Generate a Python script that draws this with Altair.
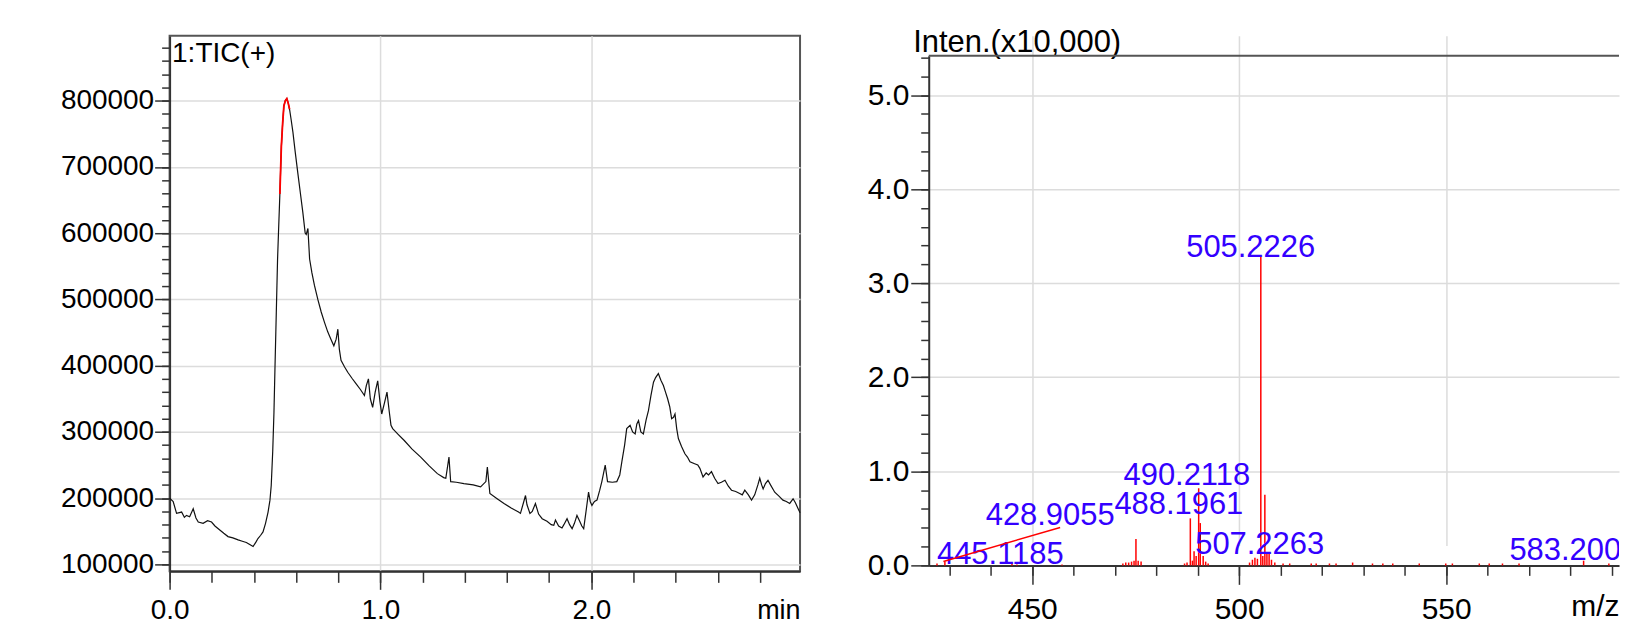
import altair as alt
import pandas as pd

FONT = "Liberation Sans"
DARK = "#333333"
FRAME = "#555555"
GRID = "#dcdcdc"
BLUE = "#3300ff"

# ---------------- TIC chromatogram ----------------
tic_t = [0.000, 0.017, 0.033, 0.057, 0.070, 0.080, 0.095, 0.112, 0.125, 0.136, 0.159, 0.180,
         0.199, 0.215, 0.238, 0.257, 0.277, 0.300, 0.325, 0.345, 0.364, 0.380, 0.396, 0.410,
         0.419, 0.432, 0.443, 0.455, 0.467, 0.476, 0.482, 0.489, 0.495, 0.500, 0.506, 0.512,
         0.517, 0.523, 0.530, 0.536, 0.542, 0.549, 0.556, 0.562, 0.569, 0.577, 0.585, 0.596,
         0.608, 0.620, 0.632, 0.643, 0.648, 0.656, 0.664, 0.675, 0.687, 0.703, 0.719, 0.735,
         0.750, 0.765, 0.779, 0.790, 0.798, 0.805, 0.813, 0.830, 0.845, 0.865, 0.884, 0.905,
         0.924, 0.933, 0.943, 0.952, 0.963, 0.975, 0.987, 0.998, 1.006, 1.020, 1.031, 1.042,
         1.050, 1.058, 1.085, 1.113, 1.150, 1.191, 1.230, 1.270, 1.300, 1.310, 1.325, 1.333,
         1.360, 1.396, 1.440, 1.475, 1.500, 1.507, 1.519, 1.550, 1.586, 1.620, 1.655, 1.664,
         1.688, 1.695, 1.709, 1.720, 1.735, 1.750, 1.767, 1.790, 1.810, 1.822, 1.830, 1.845,
         1.861, 1.870, 1.885, 1.897, 1.909, 1.920, 1.932, 1.945, 1.955, 1.964, 1.975, 1.987,
         1.995, 2.003, 2.015, 2.027, 2.040, 2.050, 2.066, 2.077, 2.100, 2.121, 2.135, 2.145,
         2.158, 2.168, 2.184, 2.196, 2.208, 2.216, 2.224, 2.235, 2.247, 2.260, 2.271, 2.283,
         2.295, 2.305, 2.318, 2.330, 2.342, 2.352, 2.362, 2.372, 2.381, 2.390, 2.397, 2.405,
         2.413, 2.428, 2.444, 2.456, 2.468, 2.490, 2.505, 2.515, 2.530, 2.545, 2.556, 2.570,
         2.585, 2.601, 2.617, 2.634, 2.650, 2.665, 2.685, 2.704, 2.716, 2.728, 2.745, 2.760,
         2.775, 2.790, 2.799, 2.808, 2.815, 2.826, 2.838, 2.850, 2.870, 2.890, 2.909, 2.925,
         2.941, 2.950, 2.957, 2.968, 2.981, 2.990]
tic_v = [200000, 195000, 177000, 179000, 171000, 174000, 172000, 184000, 170000, 164000, 162000, 166000,
         164000, 158000, 152000, 147000, 142000, 140000, 137000, 135000, 133000, 130000, 127000, 134000,
         139000, 144000, 149000, 162000, 179000, 197000, 219000, 270000, 330000, 400000, 480000, 560000,
         606000, 659000, 731000, 765000, 792000, 800000, 803000, 797000, 787000, 770000, 752000, 722000,
         691000, 661000, 631000, 600000, 598000, 607000, 561000, 540000, 521000, 500000, 481000, 465000,
         451000, 440000, 430000, 440000, 455000, 425000, 408000, 398000, 390000, 381000, 373000, 364000,
         355000, 370000, 380000, 350000, 337000, 360000, 377000, 345000, 327000, 345000, 360000, 330000,
         310000, 305000, 296000, 287000, 274000, 262000, 249000, 237000, 231000, 230000, 262000, 225000,
         224000, 222000, 220000, 217000, 225000, 247000, 207000, 200000, 192000, 185000, 179000, 177000,
         204000, 190000, 177000, 180000, 192000, 176000, 169000, 165000, 160000, 159000, 167000, 158000,
         155000, 160000, 169000, 160000, 154000, 162000, 174000, 165000, 158000, 154000, 180000, 209000,
         195000, 189000, 195000, 197000, 212000, 225000, 250000, 225000, 224000, 225000, 235000, 255000,
         280000, 305000, 310000, 300000, 297000, 312000, 317000, 300000, 297000, 318000, 332000, 355000,
         375000, 382000, 388000, 378000, 370000, 360000, 350000, 338000, 320000, 322000, 327000, 305000,
         290000, 278000, 267000, 262000, 255000, 252000, 250000, 245000, 232000, 238000, 235000, 240000,
         230000, 222000, 224000, 227000, 218000, 212000, 210000, 207000, 205000, 212000, 205000, 197000,
         205000, 220000, 230000, 220000, 214000, 222000, 227000, 220000, 209000, 203000, 197000, 195000,
         192000, 196000, 199000, 193000, 184000, 178000]

tic_x_major = [0.0, 1.0, 2.0]
tic_x_minor = [round(0.2 * i, 1) for i in range(15)]
tic_y_major = [100000 * i for i in range(1, 9)]
tic_y_minor = [100000 + 20000 * i for i in range(40)]

# ---------------- Mass spectrum ----------------
ms_mz = [427.0, 428.9055, 445.1185, 446.3, 457.2, 471.9, 472.6, 473.3, 474.0, 474.6, 475.06, 475.6,
         476.3, 486.8, 487.4, 488.1961, 488.7, 489.1, 489.6, 490.2118, 490.6, 491.3, 491.9, 492.5,
         502.5, 503.2, 503.8, 504.4, 505.2226, 505.7, 506.2, 506.7, 507.2263, 507.8, 508.6, 510.6,
         512.2, 517.4, 518.6, 521.8, 523.4, 527.4, 532.2, 534.7, 537.1, 543.5, 549.9, 551.5,
         558.0, 560.4, 563.6, 567.6, 583.2, 589.3]
ms_int = [0.02, 0.04, 0.02, 0.01, 0.01, 0.02, 0.03, 0.03, 0.04, 0.05, 0.28, 0.05,
          0.04, 0.02, 0.03, 0.50, 0.05, 0.15, 0.10, 0.82, 0.45, 0.10, 0.04, 0.02,
          0.03, 0.06, 0.08, 0.07, 3.28, 0.10, 0.75, 0.12, 0.14, 0.06, 0.03, 0.02,
          0.02, 0.02, 0.02, 0.02, 0.02, 0.03, 0.02, 0.02, 0.02, 0.02, 0.02, 0.02,
          0.02, 0.02, 0.02, 0.02, 0.05, 0.02]

lab_text = ["505.2226", "490.2118", "488.1961", "507.2263", "428.9055", "445.1185", "583.2000"]
lab_mz = [502.77, 487.35, 485.42, 504.94, 454.34, 442.29, 580.84]
lab_int = [3.28, 0.85, 0.55, 0.125, 0.428, 0.02, 0.053]

lead_mz = [456.75, 428.55]
lead_int = [0.403, 0.042]

ms_x_major = [450, 500, 550]
ms_x_minor = list(range(430, 591, 10))
ms_y_major = [0, 1, 2, 3, 4, 5]
ms_y_minor = [round(0.2 * i, 1) for i in range(28)]

# ---------------- helpers ----------------
def major_axis(values, fmt, orient, size, tick, pad, **kw):
    return alt.Axis(values=values, format=fmt, orient=orient, labelFont=FONT, labelFontSize=size,
                    labelColor="black", labelPadding=pad, labelFlush=False, labelOverlap=False,
                    tickSize=tick, tickColor=DARK, tickWidth=1.5, domainColor=DARK, domainWidth=2,
                    grid=True, gridColor=GRID, gridWidth=1.5,
                    titleFont=FONT, titleFontWeight="normal", titleColor="black",
                    titleBaseline="alphabetic", **kw)


def minor_axis(values, orient, tick):
    return alt.Axis(values=values, orient=orient, labels=False, tickSize=tick, tickColor=DARK,
                    tickWidth=1.5, domain=False, grid=False)


# ---------------- left panel ----------------
LW, LH = 632, 537
tic_df = pd.DataFrame({"t": tic_t, "v": tic_v})
xs_l = alt.Scale(domain=[0, 2.99], nice=False, zero=False)
ys_l = alt.Scale(domain=[89500, 898000], nice=False, zero=False)

tic_line = alt.Chart(tic_df).mark_line(color="#111111", strokeWidth=1.2).encode(
    x=alt.X("t:Q", scale=xs_l, title="min",
            axis=major_axis(tic_x_major, ".1f", "bottom", 28, 18, 7, titleX=LW, titleY=47,
                            titleAlign="right", titleFontSize=27)),
    y=alt.Y("v:Q", scale=ys_l, title="1:TIC(+)",
            axis=major_axis(tic_y_major, "d", "left", 28, 15, 1, titleX=2, titleY=26, titleAngle=0,
                            titleAlign="left", titleFontSize=28)),
)
tic_red = alt.Chart(tic_df).transform_filter(
    "datum.t >= 0.52 && datum.t <= 0.572"
).mark_line(color="#ff0000", strokeWidth=1.8).encode(
    x=alt.X("t:Q", scale=xs_l, title=None, axis=minor_axis(tic_x_minor, "bottom", 11)),
    y=alt.Y("v:Q", scale=ys_l, title=None, axis=minor_axis(tic_y_minor, "left", 8)),
)
left = alt.layer(tic_line, tic_red).resolve_axis(x="independent", y="independent").properties(
    width=LW, height=LH, view=alt.ViewBackground(stroke=FRAME, strokeWidth=2)
)

# ---------------- right panel ----------------
RW, RH = 692, 531
ms_df = pd.DataFrame({"mz": ms_mz, "inten": ms_int})
lab_df = pd.DataFrame({"mz": lab_mz, "inten": lab_int, "label": lab_text})
lead_df = pd.DataFrame({"mz": lead_mz, "inten": lead_int})
xs_r = alt.Scale(domain=[425, 591.75], nice=False, zero=False)
ys_r = alt.Scale(domain=[0, 5.42], range=[RH, 20], nice=False, zero=False)

sticks = alt.Chart(ms_df).mark_rule(color="#ff0000", strokeWidth=1.5).encode(
    x=alt.X("mz:Q", scale=xs_r, title="m/z",
            axis=major_axis(ms_x_major, "d", "bottom", 30, 19, 10, titleX=RW, titleY=50,
                            titleAlign="right", titleFontSize=30)),
    y=alt.Y("inten:Q", scale=ys_r, title="Inten.(x10,000)",
            axis=major_axis(ms_y_major, ".1f", "left", 30, 18, 2, titleX=-16, titleY=16,
                            titleAngle=0, titleAlign="left", titleFontSize=31)),
    y2=alt.datum(0),
)
labels = alt.Chart(lab_df).mark_text(
    font=FONT, fontSize=31, color=BLUE, align="center", baseline="alphabetic", clip=True
).encode(
    x=alt.X("mz:Q", scale=xs_r, title=None, axis=minor_axis(ms_x_minor, "bottom", 10)),
    y=alt.Y("inten:Q", scale=ys_r, title=None, axis=minor_axis(ms_y_minor, "left", 8)),
    text="label:N",
)
leader = alt.Chart(lead_df).mark_line(color="#ff0000", strokeWidth=1.5).encode(
    x=alt.X("mz:Q", scale=xs_r, axis=None),
    y=alt.Y("inten:Q", scale=ys_r, axis=None),
)
top_border = alt.Chart(pd.DataFrame({"a": [0]})).mark_rule(color=FRAME, strokeWidth=2).encode(
    x=alt.value(0), x2=alt.value(RW), y=alt.value(20)
)
right = alt.layer(sticks, labels, leader, top_border).resolve_axis(
    x="independent", y="independent"
).properties(width=RW, height=RH, view=alt.ViewBackground(stroke="transparent"))

chart = alt.hconcat(left, right, spacing=62).properties(
    padding={"left": 51, "top": 17, "right": 0, "bottom": 0}
).configure(font=FONT)

chart.save("out.html", embed_options={"renderer": "svg", "actions": False})
